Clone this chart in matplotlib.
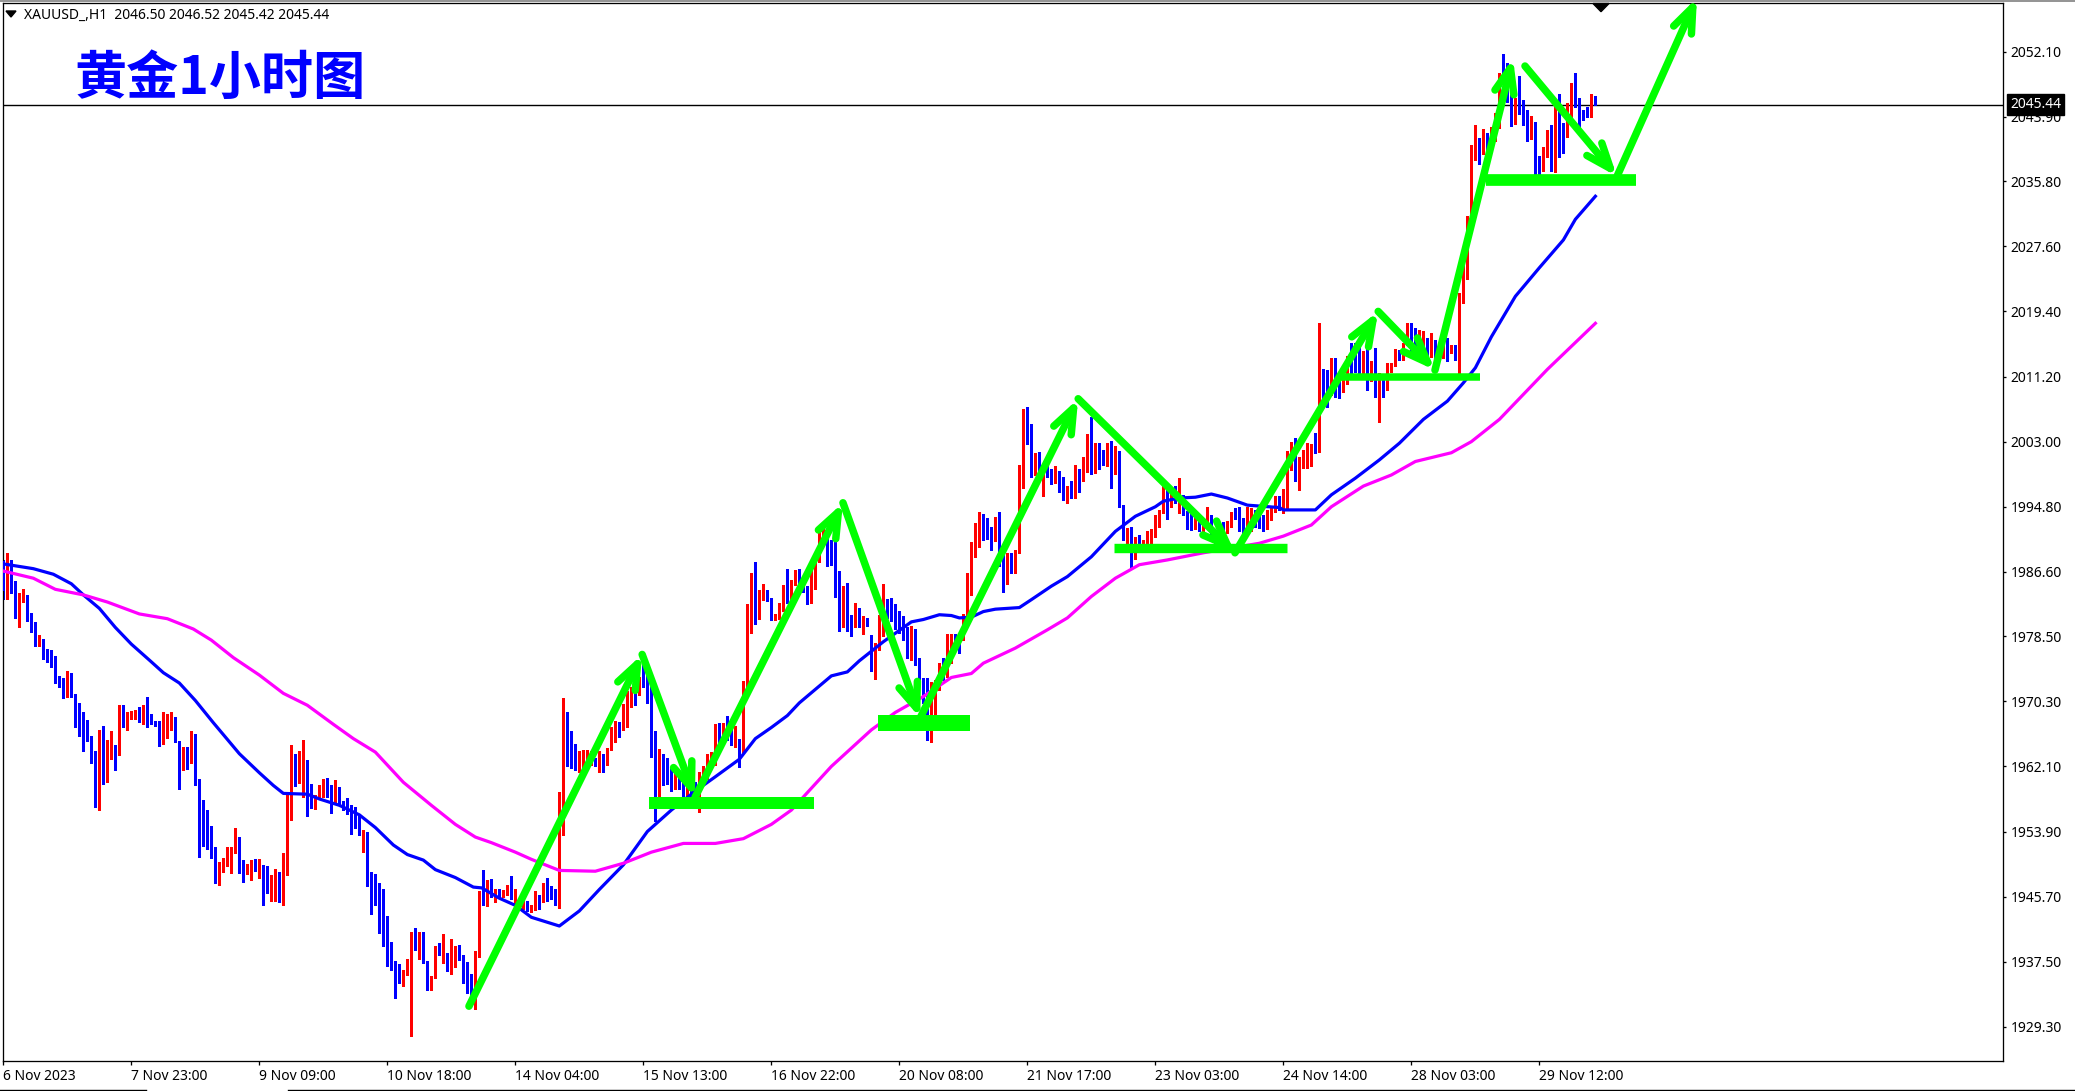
import matplotlib
matplotlib.use("Agg")
import matplotlib.pyplot as plt
import numpy as np

W, H = 2075, 1091
plt.rcParams['font.family'] = ['Noto Sans', 'DejaVu Sans']

# candles (one row = 10 bars)
opens = [
 1987.9,1984.2,1987.3,1984.6,1981.0,1983.4,1983.6,1981.3,1980.2,1977.3,
 1977.9,1976.8,1975.9,1975.6,1972.8,1972.5,1971.3,1973.7,1970.9,1969.2,
 1966.3,1966.2,1965.9,1963.7,1958.6,1966.5,1960.2,1963.1,1964.5,1963.9,
 1969.3,1967.3,1968.8,1968.8,1968.9,1967.9,1968.6,1968.6,1967.7,1967.5,
 1965.3,1967.2,1967.5,1968.2,1965.3,1961.7,1964.5,1962.7,1964.7,1960.1,
 1955.2,1954.7,1953.7,1951.9,1948.0,1949.4,1949.7,1950.5,1951.9,1953.2,
 1949.9,1949.1,1949.4,1950.1,1949.1,1949.0,1948.3,1946.7,1946.8,1948.7,
 1945.6,1950.4,1958.0,1962.8,1960.5,1961.7,1962.9,1958.5,1957.0,1958.4,
 1958.9,1960.4,1959.0,1958.1,1959.4,1957.5,1957.2,1956.9,1955.2,1954.7,
 1953.8,1953.8,1948.2,1947.3,1946.1,1942.5,1941.9,1939.4,1936.6,1935.9,
 1935.2,1935.9,1938.2,1940.3,1939.1,1940.3,1937.5,1935.2,1935.5,1938.9,
 1938.5,1938.6,1936.4,1938.1,1939.5,1937.9,1936.0,1935.9,1932.6,1938.2,
 1945.7,1945.6,1947.7,1946.1,1946.6,1945.9,1946.4,1946.8,1945.5,1944.9,
 1944.4,1944.7,1944.1,1944.1,1945.7,1945.2,1947.0,1946.7,1945.8,1945.0,
 1954.2,1967.7,1964.3,1964.1,1962.0,1962.5,1963.6,1963.2,1962.8,1962.3,
 1963.4,1962.4,1964.2,1966.6,1967.5,1966.7,1969.6,1970.2,1971.4,1971.2,
 1973.0,1972.8,1971.4,1965.4,1958.0,1963.0,1962.1,1961.3,1960.2,1961.3,
 1960.5,1958.6,1959.7,1959.2,1958.8,1960.1,1961.1,1962.2,1962.7,1966.7,
 1966.3,1967.3,1966.1,1964.9,1965.5,1964.1,1972.0,1979.6,1984.8,1981.7,
 1983.2,1984.1,1983.2,1980.7,1980.8,1982.2,1984.8,1983.3,1985.0,1986.4,
 1985.9,1984.4,1983.3,1986.4,1988.1,1991.1,1991.5,1988.8,1988.7,1984.7,
 1980.2,1983.4,1981.1,1980.9,1981.9,1980.2,1980.7,1978.3,1974.3,1977.2,
 1981.0,1982.7,1982.2,1981.3,1980.6,1980.1,1978.5,1976.6,1979.3,1975.7,
 1973.2,1972.4,1968.4,1971.3,1972.1,1974.5,1973.9,1977.2,1978.5,1978.0,
 1978.5,1981.0,1986.2,1989.7,1990.6,1993.1,1992.0,1991.7,1990.6,1992.3,
 1988.5,1985.3,1988.5,1987.1,1989.0,1997.3,2005.3,2004.1,2000.9,2001.5,
 1998.4,1999.2,1999.0,1998.5,1999.2,1997.4,1995.9,1996.8,1996.2,1999.2,
 1998.6,2000.6,2003.6,1999.4,2002.1,2001.0,2000.5,2001.7,1999.1,2001.7,
 1994.9,1990.8,1991.4,1988.3,1990.6,1989.8,1989.8,1990.2,1991.8,1993.2,
 1994.2,1996.9,1994.9,1996.5,1995.3,1996.1,1994.2,1994.0,1992.7,1993.0,
 1992.1,1992.4,1993.6,1991.5,1991.5,1992.7,1992.3,1992.8,1994.1,1993.8,
 1992.7,1992.1,1992.5,1993.6,1993.5,1993.5,1993.2,1993.2,1994.6,1995.7,
 1994.6,1995.2,1999.5,2001.0,1998.2,1999.7,2000.8,2002.1,2002.3,2001.8,
 2012.0,2011.1,2009.1,2012.8,2011.1,2009.4,2011.8,2014.8,2014.1,2013.6,
 2012.4,2013.5,2010.8,2011.6,2010.0,2010.8,2009.6,2012.1,2012.7,2014.4,
 2014.4,2015.2,2017.1,2016.5,2014.8,2014.4,2015.4,2015.0,2015.8,2015.2,
 2014.5,2015.8,2014.4,2015.1,2014.1,2021.3,2025.9,2030.7,2039.5,2040.8,
 2039.3,2041.6,2041.0,2041.0,2042.6,2051.1,2049.8,2046.8,2043.8,2046.1,
 2045.9,2044.5,2042.3,2042.6,2038.2,2037.2,2039.9,2041.2,2038.9,2044.2,
 2042.9,2041.9,2044.8,2047.6,2046.1,2044.5,2044.7,2044.5,2046.50]

highs = [
 1988.1,1989.0,1988.1,1985.5,1983.9,1984.4,1983.7,1981.4,1980.3,1978.7,
 1978.2,1976.9,1976.7,1976.0,1973.5,1973.2,1974.1,1973.8,1971.2,1970.1,
 1968.9,1968.0,1965.9,1964.1,1966.7,1967.2,1965.4,1966.5,1964.8,1969.8,
 1969.8,1968.9,1969.1,1969.2,1969.6,1969.8,1970.9,1968.7,1967.8,1967.8,
 1968.9,1968.7,1968.9,1968.2,1965.3,1964.5,1964.5,1966.6,1966.2,1960.5,
 1957.9,1956.6,1954.6,1951.9,1950.1,1950.6,1951.9,1952.0,1954.4,1953.2,
 1950.3,1949.8,1950.3,1950.4,1950.4,1949.7,1949.6,1948.4,1949.2,1948.8,
 1951.2,1958.6,1964.8,1963.6,1964.1,1965.4,1962.9,1959.9,1958.5,1959.7,
 1960.5,1960.6,1959.7,1960.4,1959.4,1957.7,1958.1,1957.2,1957.0,1955.9,
 1954.1,1953.8,1948.8,1948.5,1947.4,1946.7,1943.2,1940.0,1937.6,1937.2,
 1936.4,1937.8,1941.3,1941.7,1941.2,1941.2,1937.5,1935.7,1939.5,1939.9,
 1941.0,1938.6,1940.4,1939.5,1939.6,1938.4,1937.5,1935.9,1938.8,1946.4,
 1949.0,1947.7,1947.9,1946.7,1946.6,1946.5,1947.2,1948.3,1946.6,1945.5,
 1945.1,1945.2,1944.7,1946.4,1945.9,1947.4,1948.1,1947.0,1946.6,1958.9,
 1970.7,1969.0,1966.5,1964.9,1964.1,1964.2,1964.2,1964.1,1963.1,1964.1,
 1963.6,1964.4,1967.1,1967.8,1967.7,1969.9,1971.6,1972.1,1972.1,1973.4,
 1975.2,1975.2,1972.7,1966.5,1964.3,1963.6,1963.1,1962.0,1962.0,1961.4,
 1961.0,1960.8,1961.2,1960.1,1961.4,1962.1,1963.6,1963.9,1967.4,1967.6,
 1967.6,1968.5,1967.4,1967.2,1965.6,1972.9,1982.6,1986.4,1987.9,1984.3,
 1985.1,1984.3,1983.3,1981.3,1982.7,1984.9,1986.9,1985.6,1986.8,1987.0,
 1986.0,1984.8,1986.9,1989.0,1992.3,1992.3,1991.9,1990.6,1991.8,1986.7,
 1984.8,1985.2,1981.1,1982.7,1982.0,1981.1,1980.8,1978.6,1977.6,1981.2,
 1985.1,1983.2,1983.3,1982.5,1981.7,1981.0,1979.7,1979.8,1979.4,1975.7,
 1973.2,1973.2,1972.7,1973.0,1975.1,1975.7,1978.8,1978.8,1978.8,1978.5,
 1981.3,1986.5,1990.4,1992.7,1994.1,1993.9,1993.4,1992.3,1993.5,1994.1,
 1989.0,1989.0,1989.0,1989.3,2000.1,2007.1,2007.4,2005.2,2001.6,2001.7,
 1999.9,1999.9,1999.5,1999.9,1999.2,1998.6,1997.4,1998.0,2000.1,1999.5,
 2001.1,2003.9,2006.1,2002.8,2002.8,2002.0,2002.8,2003.1,2002.4,2001.7,
 1994.9,1992.1,1992.3,1991.0,1991.3,1990.6,1991.8,1992.0,1993.8,1994.4,
 1997.8,1997.1,1996.5,1997.4,1998.4,1996.3,1994.2,1994.8,1994.0,1993.5,
 1993.0,1994.8,1993.7,1991.7,1992.7,1992.9,1993.0,1994.2,1994.6,1994.8,
 1993.4,1994.8,1994.6,1994.4,1994.0,1993.8,1994.4,1994.8,1996.2,1996.1,
 1997.0,2001.8,2002.9,2003.4,2001.1,2002.0,2002.8,2002.7,2004.1,2018.0,
 2012.1,2012.0,2013.5,2013.5,2011.6,2012.5,2013.8,2015.4,2015.4,2015.4,
 2014.4,2014.8,2013.1,2014.8,2011.6,2011.4,2012.9,2012.9,2014.7,2014.5,
 2015.4,2017.9,2017.9,2017.3,2017.1,2016.9,2016.0,2016.7,2015.8,2015.2,
 2015.4,2016.0,2015.2,2015.2,2021.7,2025.5,2031.4,2040.4,2042.9,2041.2,
 2042.4,2041.9,2042.6,2044.4,2049.4,2051.8,2050.7,2047.4,2046.3,2049.0,
 2046.0,2044.7,2044.0,2043.3,2039.0,2040.1,2042.2,2042.9,2045.2,2046.8,
 2043.1,2045.6,2048.2,2049.4,2046.3,2044.8,2045.2,2046.8,2046.52]

lows = [
 1983.2,1983.2,1983.9,1980.8,1979.7,1982.8,1980.4,1979.0,1977.2,1977.2,
 1975.6,1975.3,1974.6,1972.6,1972.1,1970.7,1970.9,1970.9,1967.1,1965.9,
 1964.0,1965.3,1962.5,1957.0,1956.6,1959.9,1960.1,1963.0,1961.6,1963.5,
 1967.0,1966.7,1968.1,1968.1,1967.7,1967.4,1967.1,1967.4,1967.2,1964.7,
 1964.9,1965.7,1966.7,1965.2,1959.3,1961.6,1961.8,1962.5,1959.7,1950.7,
 1952.1,1951.7,1950.6,1947.4,1947.2,1948.8,1949.6,1948.7,1951.2,1948.7,
 1947.6,1948.5,1947.8,1948.9,1948.1,1944.6,1946.2,1945.1,1945.1,1945.0,
 1944.7,1948.4,1955.3,1959.6,1960.0,1958.2,1955.9,1956.8,1956.7,1958.2,
 1958.3,1958.3,1956.2,1957.5,1957.4,1956.6,1956.1,1953.6,1954.3,1953.4,
 1951.3,1947.0,1943.5,1944.6,1941.1,1939.5,1937.0,1936.4,1932.9,1934.8,
 1934.4,1935.8,1928.2,1939.1,1937.8,1937.4,1933.9,1934.0,1935.5,1938.3,
 1937.3,1936.3,1935.9,1936.9,1937.7,1934.8,1933.6,1932.7,1931.5,1938.1,
 1944.6,1944.5,1945.6,1945.0,1945.5,1945.6,1945.9,1945.4,1944.6,1944.2,
 1944.1,1943.9,1943.8,1944.1,1944.1,1945.0,1945.1,1945.4,1944.6,1944.3,
 1953.4,1962.1,1961.9,1961.7,1961.4,1961.9,1962.7,1962.3,1962.1,1961.4,
 1961.4,1962.3,1964.2,1965.2,1965.8,1966.7,1967.1,1969.6,1969.8,1971.2,
 1972.1,1970.1,1963.3,1955.2,1957.9,1959.7,1959.9,1959.0,1959.2,1959.2,
 1958.3,1958.1,1958.1,1958.3,1956.3,1959.7,1960.5,1961.9,1962.3,1965.0,
 1965.4,1965.4,1964.8,1964.5,1962.0,1963.9,1972.0,1978.9,1980.0,1980.7,
 1983.1,1982.9,1980.6,1980.5,1980.6,1981.7,1982.7,1983.2,1985.0,1984.8,
 1984.1,1982.5,1982.7,1984.5,1987.9,1990.0,1987.3,1987.5,1983.4,1979.2,
 1979.7,1979.2,1978.5,1979.6,1979.7,1978.8,1979.8,1974.1,1973.1,1976.8,
 1978.5,1980.8,1980.4,1979.4,1978.9,1978.0,1975.7,1975.5,1974.9,1972.2,
 1970.1,1965.4,1965.2,1968.4,1971.7,1973.0,1973.4,1975.1,1976.8,1976.4,
 1978.0,1980.8,1983.7,1988.5,1989.7,1990.6,1990.8,1989.4,1990.6,1987.3,
 1984.1,1985.1,1986.4,1986.4,1989.0,1997.1,2002.7,1998.5,1998.8,1998.3,
 1996.1,1998.6,1997.7,1997.8,1996.7,1995.6,1995.3,1995.9,1995.9,1996.6,
 1998.1,1999.2,1998.9,1999.0,1999.5,2000.1,1999.9,1997.1,1998.9,1994.8,
 1990.6,1989.8,1986.9,1988.2,1989.8,1989.2,1989.2,1990.0,1991.0,1992.3,
 1994.0,1993.2,1994.8,1995.3,1994.0,1993.7,1992.0,1991.9,1992.0,1991.8,
 1991.7,1992.1,1990.6,1990.2,1991.1,1990.8,1991.5,1992.3,1993.2,1991.7,
 1990.8,1991.5,1991.7,1992.3,1992.1,1991.8,1992.0,1993.1,1994.2,1994.4,
 1994.0,1994.6,1999.4,1998.1,1996.9,1999.7,1999.7,1999.9,2001.6,2001.8,
 2007.5,2007.3,2008.9,2008.6,2008.5,2009.3,2010.3,2011.2,2011.8,2011.2,
 2011.2,2009.5,2010.6,2008.6,2005.5,2008.6,2009.5,2011.8,2012.5,2013.3,
 2013.3,2015.2,2014.1,2013.8,2013.7,2013.5,2012.9,2013.7,2012.3,2013.3,
 2013.5,2013.2,2014.2,2013.3,2011.6,2020.4,2023.5,2030.5,2038.5,2038.0,
 2039.2,2038.9,2040.2,2040.9,2042.5,2048.6,2045.8,2042.8,2043.0,2044.2,
 2042.9,2040.9,2041.1,2036.7,2036.7,2037.1,2038.9,2037.1,2036.9,2038.9,
 2039.3,2041.3,2043.7,2045.1,2042.6,2043.5,2043.9,2043.9,2045.42]

closes = [
 1984.4,1986.2,1984.6,1980.9,1983.5,1983.6,1981.1,1980.2,1977.3,1977.8,
 1976.6,1975.8,1975.5,1972.7,1972.4,1971.3,1973.7,1970.9,1969.1,1966.5,
 1966.1,1966.0,1963.7,1958.6,1966.5,1960.1,1963.3,1964.5,1963.9,1969.2,
 1967.3,1968.9,1968.9,1968.9,1968.0,1968.6,1968.5,1967.5,1967.4,1965.3,
 1967.2,1967.5,1968.1,1965.2,1961.8,1964.5,1962.6,1964.7,1959.9,1955.2,
 1954.6,1953.6,1951.9,1948.0,1949.7,1950.0,1950.7,1951.9,1953.2,1949.8,
 1949.1,1949.4,1950.1,1949.1,1949.2,1948.2,1946.7,1946.9,1948.7,1945.6,
 1950.5,1958.0,1962.8,1960.4,1961.8,1962.9,1958.6,1957.2,1958.0,1959.0,
 1960.4,1958.9,1958.2,1959.3,1957.5,1956.7,1956.3,1955.1,1954.5,1953.7,
 1953.9,1947.9,1947.0,1946.0,1942.3,1941.9,1939.5,1936.5,1935.8,1935.2,
 1935.9,1937.7,1940.3,1939.1,1940.3,1937.4,1935.1,1935.6,1939.0,1938.5,
 1938.8,1936.4,1938.1,1939.4,1937.8,1936.0,1935.8,1933.1,1938.3,1945.6,
 1945.6,1947.7,1945.9,1946.6,1945.9,1946.4,1946.7,1945.5,1945.7,1944.6,
 1944.6,1944.2,1944.5,1945.5,1945.2,1947.0,1946.6,1945.6,1945.0,1954.1,
 1967.7,1964.2,1963.8,1962.0,1962.7,1963.6,1963.8,1963.6,1962.3,1963.6,
 1962.4,1964.3,1966.7,1967.5,1966.7,1969.4,1970.3,1971.5,1971.2,1972.7,
 1972.8,1971.3,1965.3,1957.0,1963.1,1962.0,1961.2,1960.3,1961.6,1959.7,
 1959.2,1959.7,1958.3,1958.6,1960.6,1961.3,1962.4,1962.7,1966.8,1966.3,
 1967.4,1966.1,1964.9,1965.4,1964.1,1972.0,1979.5,1984.8,1981.8,1983.2,
 1984.1,1983.1,1980.6,1981.2,1982.5,1984.8,1983.3,1985.2,1986.6,1985.9,
 1984.1,1983.5,1986.4,1987.5,1991.1,1991.7,1988.5,1988.6,1984.6,1980.2,
 1983.4,1981.0,1980.9,1981.8,1980.2,1980.6,1980.4,1974.3,1977.4,1981.0,
 1982.7,1982.2,1981.2,1980.2,1980.1,1978.5,1976.8,1979.1,1975.7,1973.2,
 1972.2,1969.6,1971.5,1972.2,1974.5,1973.6,1977.3,1978.5,1977.5,1977.2,
 1980.6,1986.2,1990.0,1990.6,1993.2,1991.9,1991.5,1990.6,1992.3,1988.3,
 1985.2,1988.5,1987.0,1989.0,1997.4,2005.3,2004.1,2000.9,2001.5,1998.4,
 1999.5,1998.8,1998.2,1999.2,1997.3,1995.9,1996.5,1996.2,1999.2,1998.6,
 2000.7,2003.6,1999.5,2002.0,2001.0,2000.5,2001.7,1998.9,2001.7,1994.8,
 1991.5,1991.5,1988.0,1990.6,1990.2,1990.2,1990.4,1991.9,1993.5,1994.2,
 1997.6,1994.9,1996.2,1995.7,1996.1,1994.0,1993.8,1993.3,1993.6,1992.1,
 1992.5,1993.6,1991.4,1990.6,1992.6,1991.9,1992.7,1994.1,1993.7,1992.5,
 1992.1,1993.6,1993.7,1993.2,1993.3,1993.3,1993.4,1994.4,1995.7,1994.8,
 1995.5,1999.5,2001.1,1998.1,1999.8,2000.9,2002.5,2002.3,2001.8,2012.0,
 2008.2,2008.2,2012.8,2009.1,2009.4,2011.6,2013.6,2013.1,2013.1,2011.6,
 2013.6,2011.6,2011.6,2010.0,2010.8,2009.6,2011.6,2012.8,2014.5,2014.1,
 2015.2,2017.1,2015.2,2015.0,2015.4,2014.8,2014.4,2015.8,2013.9,2014.8,
 2015.0,2014.4,2015.1,2014.1,2021.4,2025.5,2030.7,2039.6,2040.7,2039.3,
 2041.6,2041.0,2042.3,2044.3,2048.2,2049.0,2046.9,2043.8,2046.1,2045.8,
 2044.5,2042.4,2042.6,2038.2,2037.2,2040.0,2041.2,2038.9,2044.2,2042.8,
 2041.9,2044.9,2047.7,2046.1,2044.3,2044.0,2044.5,2046.5,2045.44]

# moving averages, read at some bars
ma_blue_x = [0,7.5,12.5,17,20,24,28,32,36.7,40,44,48,52.5,56,59,64,67.5,70,76,79,84,89,93,97.5,
             101,105,108,113,117.5,119.6,124,128,132,139,144,149,155,161,167,173,178,184,188,
             192,196,199,203,207,211,214,220,227,230,234,237,239,242,245,248,254,257,262,266,
             272,278,283,288,290,294,298,302,306,311,319,320,328,332,338,344,349,355,361,365,
             368,372,378,384,390,393,398]
ma_blue_y = [1987.6,1987.0,1986.3,1985.1,1983.7,1982.0,1979.6,1977.5,1975.4,1973.9,1972.6,1970.4,
             1967.6,1965.5,1963.7,1961.3,1959.7,1958.7,1958.6,1958.0,1957.2,1956.0,1954.4,1952.2,
             1951.0,1950.3,1949.1,1948.1,1946.9,1946.8,1945.5,1944.6,1943.1,1942.0,1943.9,1946.6,
             1949.7,1953.9,1956.6,1959.0,1960.8,1963.0,1965.6,1967.0,1968.5,1970.1,1971.8,1973.5,
             1974.0,1975.4,1977.8,1980.3,1980.6,1981.2,1981.1,1980.8,1980.9,1981.6,1981.9,1982.1,
             1983.1,1984.8,1986.0,1988.5,1991.7,1993.6,1994.8,1995.5,1995.9,1996.0,1996.4,1995.9,
             1995.0,1994.7,1994.4,1994.4,1996.3,1998.4,2000.7,2002.8,2005.8,2008.1,2010.4,2012.3,
             2016.2,2021.3,2024.9,2028.4,2031.0,2033.9]
ma_pink_x = [0,7.5,13,20,26,34,41,47.5,52,57.5,64,70,76,82.5,87.5,93,100,107,113,118,122,128,132,
             139,148,155,162,170,178,185,192,197,207,217,223,230,237,242,245,253,261,266,272,278,
             284,291,300,314,320,327,332,340,347,353,362,367,374,386,398]
ma_pink_y = [1986.7,1985.8,1984.4,1983.7,1982.8,1981.3,1980.7,1979.4,1978.0,1975.8,1973.6,1971.3,
             1969.8,1967.4,1965.6,1963.9,1960.1,1957.2,1954.8,1953.2,1952.5,1951.3,1950.4,1949.0,
             1948.9,1949.9,1951.3,1952.4,1952.4,1953.0,1954.8,1956.6,1962.1,1966.7,1968.9,1970.9,
             1973.3,1973.8,1975.1,1977.0,1979.3,1980.8,1983.5,1985.8,1987.5,1988.1,1989.0,1990.2,
             1991.1,1992.5,1994.8,1997.4,1998.8,2000.5,2001.6,2003.0,2005.8,2012.1,2017.9]

# hand drawn green arrows and support bars
arrow_a_x = [116.4,159.7,172.9,209.9,229.2,268.7,307.9,343.7,357.9,377.4]
arrow_a_y = [1931.9,1976.2,1958.2,1995.3,1968.2,2008.4,1989.0,2019.4,2012.0,2051.3]
arrow_b_x = [380.4,403.4,423.4]
arrow_b_y = [2050.3,2036.4,2058.9]
bar_y = [1957.5,1967.6,1989.6,2011.1,2035.9]
bar_x0 = [161.4,218.7,277.7,333.7,370.7]
bar_x1 = [202.7,241.7,320.9,369.2,408.2]

price_ticks = [2052.10,2043.90,2035.80,2027.60,2019.40,2011.20,2003.00,1994.80,1986.60,1978.50,
               1970.30,1962.10,1953.90,1945.70,1937.50,1929.30]
time_ticks = [0,32,64,96,128,160,192,224,256,288,320,352,384]
time_labels = ["6 Nov 2023","7 Nov 23:00","9 Nov 09:00","10 Nov 18:00","14 Nov 04:00","15 Nov 13:00",
               "16 Nov 22:00","20 Nov 08:00","21 Nov 17:00","23 Nov 03:00","24 Nov 14:00",
               "28 Nov 03:00","29 Nov 12:00"]
last_price = 2045.44
header = "XAUUSD_,H1  2046.50 2046.52 2045.42 2045.44"
title = "黄金1小时图"

PX = 0.72  # one pixel in points at dpi 100
RED, BLUE, PINK, GREEN = "#FF0000", "#0000FF", "#FF00FF", "#00FF00"


def fx(px):
    return px / W


def fy(py):
    return 1 - py / H


fig = plt.figure(figsize=(W / 100, H / 100), dpi=100)
left, right, top, bottom = 2.7, 2003, 3.3, 1061
ax = fig.add_axes([fx(left), fy(bottom), (right - left) / W, (bottom - top) / H])
ax.set_xlim(-0.16, 499.9)
ax.set_ylim(1925.0, 2058.2)

x = np.arange(len(opens))
o, h, l, c = map(np.array, (opens, highs, lows, closes))
up = c >= o
colors = np.where(up, RED, BLUE)

ax.axhline(last_price, color="black", lw=1.4 * PX, zorder=1)
ax.vlines(x, l, h, colors=colors, lw=1.1 * PX, antialiased=False, zorder=2)
# thick short lines for the bodies, so they stay centred on the wicks
ax.vlines(x, np.minimum(o, c) - 0.06, np.maximum(o, c) + 0.06, colors=colors, lw=3 * PX,
          capstyle="butt", antialiased=False, zorder=3)

ax.plot(ma_blue_x, ma_blue_y, color=BLUE, lw=3.2 * PX, zorder=4)
ax.plot(ma_pink_x, ma_pink_y, color=PINK, lw=3.2 * PX, zorder=4)

for y0, a, b, lw in zip(bar_y, bar_x0, bar_x1, [12, 16, 9.4, 7.5, 11.7]):
    ax.hlines(y0, a, b, colors=GREEN, lw=lw * PX, capstyle="butt", clip_on=False, zorder=5)

arrow_style = dict(arrowstyle="->,head_length=18,head_width=7", mutation_scale=1, color=GREEN,
                   lw=7.5 * PX, shrinkA=0, shrinkB=0, capstyle="round", joinstyle="round", zorder=6)
for xs, ys in ((arrow_a_x, arrow_a_y), (arrow_b_x, arrow_b_y)):
    for i in range(len(xs) - 1):
        ann = ax.annotate("", xy=(xs[i + 1], ys[i + 1]), xytext=(xs[i], ys[i]),
                          arrowprops=arrow_style, annotation_clip=False)
        ann.set_zorder(6)

for s in ax.spines.values():
    s.set_linewidth(1.3 * PX)
ax.yaxis.tick_right()
ax.set_yticks(price_ticks)
ax.set_yticklabels(["%.2f" % p for p in price_ticks], fontsize=10)
ax.tick_params(axis="y", length=3 * PX, width=1.3 * PX, pad=3.5, direction="out")
ax.set_xticks(time_ticks)
ax.set_xticklabels(time_labels, fontsize=10, ha="left")
ax.tick_params(axis="x", length=4 * PX, width=1.3 * PX, pad=3, direction="out")

# price tag of the current bar
ax.text(1.0035, last_price, "2045.44", transform=ax.get_yaxis_transform(), color="white", fontsize=10,
        va="center", ha="left", zorder=10, clip_on=False,
        bbox=dict(boxstyle="square,pad=0.2", fc="black", ec="black"))

fig.text(fx(24), fy(15), header, fontsize=10, va="center", ha="left", color="black")
fig.text(fx(75), fy(78), title, fontsize=37.5, fontweight="bold", color=BLUE, va="center", ha="left",
         family=["Noto Sans CJK SC", "DejaVu Sans"])

# little black triangles in the corner and on top
fig.add_artist(plt.Polygon([[fx(6), fy(11)], [fx(16), fy(11)], [fx(11), fy(17)]], color="black",
                           transform=fig.transFigure))
fig.add_artist(plt.Polygon([[fx(1593), fy(3.5)], [fx(1609), fy(3.5)], [fx(1601), fy(11.7)]], color="black",
                           transform=fig.transFigure))

# window edges
fig.add_artist(plt.Line2D([0, 1], [fy(0.8), fy(0.8)], color="#808080", lw=1.2))
fig.add_artist(plt.Line2D([0, fx(146)], [fy(1090), fy(1090)], color="black", lw=1))
fig.add_artist(plt.Line2D([fx(288), 1], [fy(1090), fy(1090)], color="black", lw=1))

fig.savefig("out.png", dpi=100)
